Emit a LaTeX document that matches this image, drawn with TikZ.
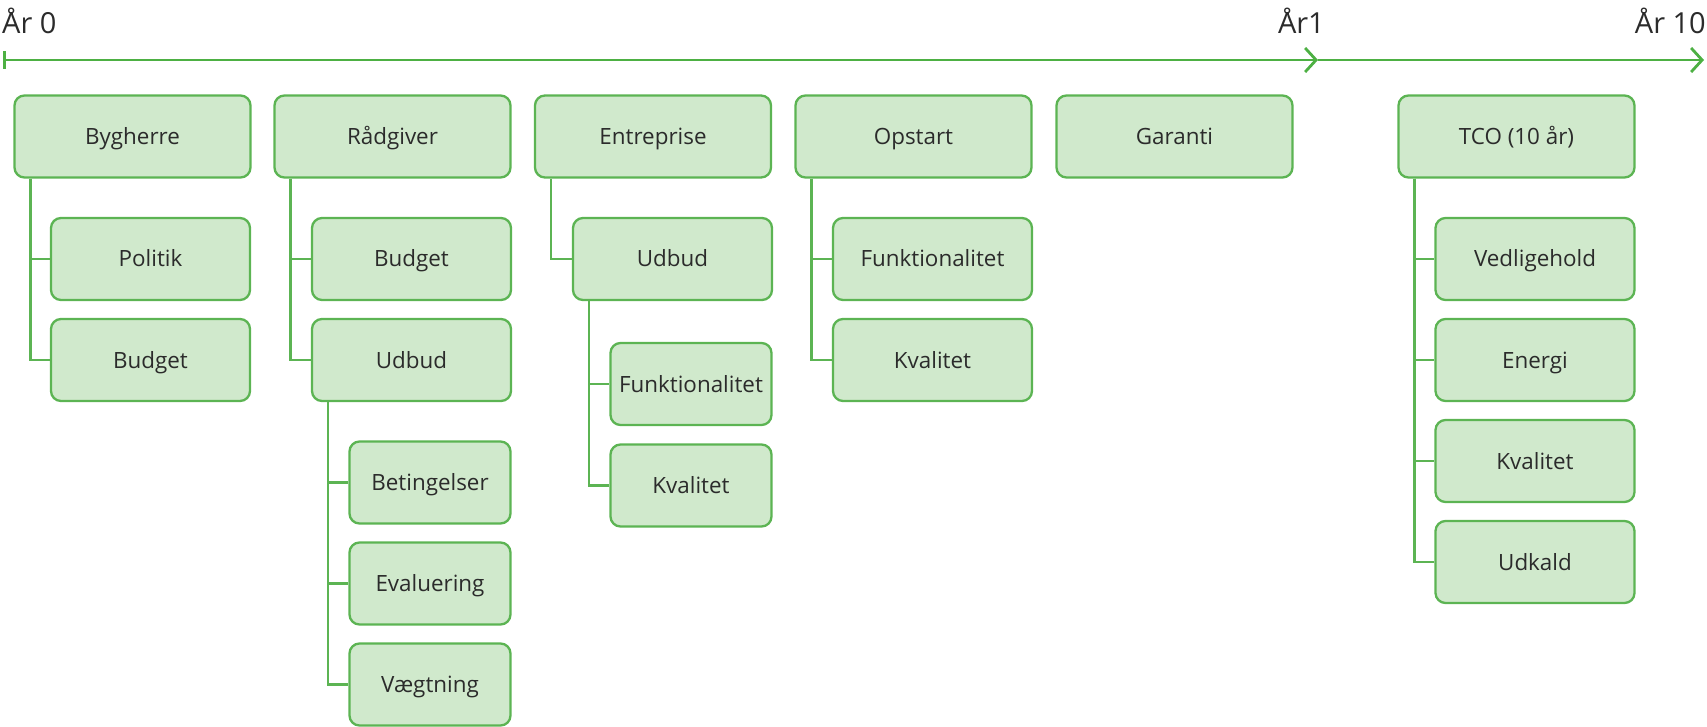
\documentclass[tikz,border=0pt]{standalone}
\usepackage{fontspec}
\setmainfont{Open Sans}
\usetikzlibrary{arrows.meta,calc}
\definecolor{boxfill}{HTML}{D0E9CC}
\definecolor{boxline}{HTML}{5CB453}
\definecolor{tline}{HTML}{4DB043}
\definecolor{txt}{HTML}{2B2B2B}
\begin{document}
\begin{tikzpicture}[x=1pt,y=-1pt,
  box/.style={draw=boxline, fill=boxfill, line width=2.3pt, rounded corners=10pt,
    minimum height=82pt, inner sep=0pt, text height=16pt, text depth=0pt,
    text=txt, font=\fontsize{22.4}{26}\selectfont},
  topbox/.style={box, minimum width=236pt},
  subbox/.style={box, minimum width=199pt},
  subsubbox/.style={box, minimum width=161pt},
  conn/.style={draw=boxline, line width=2.3pt},
  yearlbl/.style={text=txt, font=\fontsize{29}{34}\selectfont, inner sep=0pt}]
\useasboundingbox (0,0) rectangle (1707,727);
% timeline
\coordinate (t0) at (3,60);
\coordinate (t1) at (1318,60);
\coordinate (t10) at (1704,60);
\draw[tline, line width=2.8pt, {Bar[width=18pt,line width=2.8pt]}-{Straight Barb[length=11pt,width=24pt,line width=2.8pt]}] (t0) -- (t1);
\draw[tline, line width=2.8pt, -{Straight Barb[length=11pt,width=24pt,line width=2.8pt]}] (t1) -- (t10);
\node[yearlbl, anchor=west] (y0) at (2,21) {År 0};
\node[yearlbl, anchor=east] (y1) at (1325,21) {År1};
\node[yearlbl, anchor=east] (y10) at (1706,21) {År 10};
% top row
\node[topbox] (byg) at (132.5,136.5) {Bygherre};
\node[topbox] (rad) at (392.5,136.5) {Rådgiver};
\node[topbox] (ent) at (653,136.5) {Entreprise};
\node[topbox] (ops) at (913.5,136.5) {Opstart};
\node[topbox] (gar) at (1174.5,136.5) {Garanti};
\node[topbox] (tco) at (1516.5,136.5) {TCO (10 år)};
% Bygherre
\node[subbox] (pol) at (150.5,259) {Politik};
\node[subbox] (bbud) at (150.5,360) {Budget};
% Rådgiver
\node[subbox] (rbud) at (411.5,259) {Budget};
\node[subbox] (rudb) at (411.5,360) {Udbud};
\node[subsubbox] (bet) at (430,482.5) {Betingelser};
\node[subsubbox] (eva) at (430,583.5) {Evaluering};
\node[subsubbox] (vae) at (430,684.5) {Vægtning};
% Entreprise
\node[subbox] (eudb) at (672.5,259) {Udbud};
\node[subsubbox] (efun) at (691,384) {Funktionalitet};
\node[subsubbox] (ekva) at (691,485.5) {Kvalitet};
% Opstart
\node[subbox] (ofun) at (932.5,259) {Funktionalitet};
\node[subbox] (okva) at (932.5,360) {Kvalitet};
% TCO
\node[subbox] (tved) at (1535,259) {Vedligehold};
\node[subbox] (tene) at (1535,360) {Energi};
\node[subbox] (tkva) at (1535,461) {Kvalitet};
\node[subbox] (tudk) at (1535,562) {Udkald};
% connectors
\draw[conn] ($(byg.south west)+(17,0)$) |- (pol.west);
\draw[conn] ($(byg.south west)+(17,0)$) |- (bbud.west);
\draw[conn] ($(rad.south west)+(17,0)$) |- (rbud.west);
\draw[conn] ($(rad.south west)+(17,0)$) |- (rudb.west);
\draw[conn] ($(rudb.south west)+(17,0)$) |- (bet.west);
\draw[conn] ($(rudb.south west)+(17,0)$) |- (eva.west);
\draw[conn] ($(rudb.south west)+(17,0)$) |- (vae.west);
\draw[conn] ($(ent.south west)+(17,0)$) |- (eudb.west);
\draw[conn] ($(eudb.south west)+(17,0)$) |- (efun.west);
\draw[conn] ($(eudb.south west)+(17,0)$) |- (ekva.west);
\draw[conn] ($(ops.south west)+(17,0)$) |- (ofun.west);
\draw[conn] ($(ops.south west)+(17,0)$) |- (okva.west);
\draw[conn] ($(tco.south west)+(17,0)$) |- (tved.west);
\draw[conn] ($(tco.south west)+(17,0)$) |- (tene.west);
\draw[conn] ($(tco.south west)+(17,0)$) |- (tkva.west);
\draw[conn] ($(tco.south west)+(17,0)$) |- (tudk.west);
\end{tikzpicture}
\end{document}
